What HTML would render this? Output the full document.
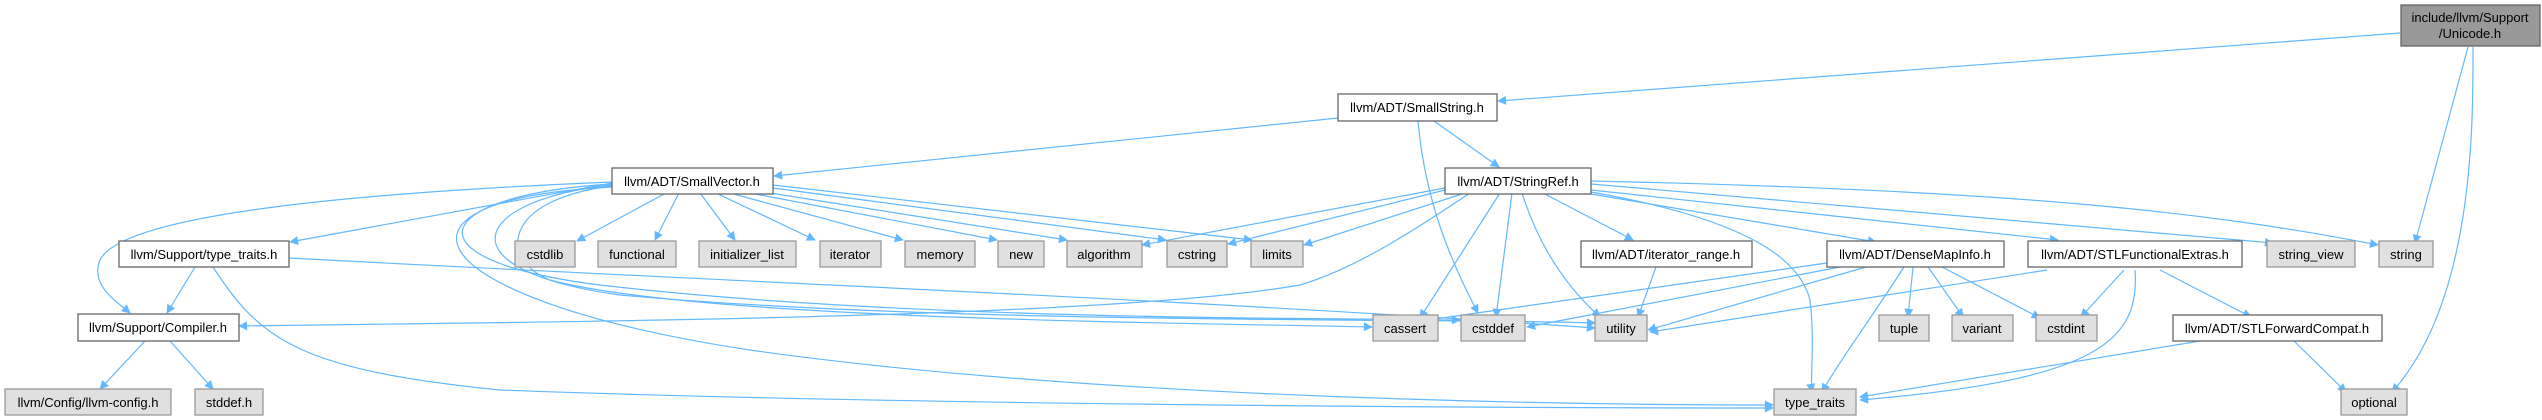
<!DOCTYPE html>
<html><head><meta charset="utf-8"><style>
html,body{margin:0;padding:0;background:#fff;width:2542px;height:420px;overflow:hidden}
svg{display:block}
text{font-family:"Liberation Sans",sans-serif;font-size:13px;fill:#000;text-anchor:middle}
.e{fill:none;stroke:#63b8ff;stroke-width:1.2}
.w{fill:#fff;stroke:#666;stroke-width:1.3}
.g{fill:#e0e0e0;stroke:#999;stroke-width:1.3}
.r{fill:#999;stroke:#666;stroke-width:1.3}
</style></head><body>
<svg width="2542" height="420" viewBox="0 0 2542 420" xmlns="http://www.w3.org/2000/svg">
<defs><marker id="a" viewBox="0 0 10 10" refX="9" refY="5" markerWidth="10" markerHeight="9" markerUnits="userSpaceOnUse" orient="auto"><path d="M0,0 L10,5 L0,10 z" fill="#63b8ff"/></marker></defs>
<g class="e" marker-end="url(#a)">
<!-- Unicode -->
<path d="M2400,33 L1498,101"/>
<path d="M2468,47 L2415,243"/>
<path d="M2473,47 C2473,120 2475,300 2392,392"/>
<!-- SmallString -->
<path d="M1338,118 L774,176"/>
<path d="M1434,121 L1499,167"/>
<path d="M1418,121 C1425,200 1450,260 1478,313"/>
<!-- SmallVector -->
<path d="M612,183 L290,242"/>
<path d="M612,182 C300,195 120,220 100,260 C90,285 115,300 130,313"/>
<path d="M666,193 L577,241"/>
<path d="M679,193 L655,240"/>
<path d="M700,193 L735,240"/>
<path d="M716,193 L815,240"/>
<path d="M730,193 L903,240"/>
<path d="M750,193 L997,240"/>
<path d="M770,193 L1067,240"/>
<path d="M773,188 L1166,240"/>
<path d="M773,185 L1252,240"/>
<path d="M612,186 C500,200 500,260 550,280 C700,320 1200,323 1372,327"/>
<path d="M612,184 C430,195 400,260 600,285 C900,320 1300,318 1460,320"/>
<path d="M612,185 C470,200 440,270 620,295 C950,325 1450,318 1595,323"/>
<path d="M612,187 C360,200 420,300 750,350 C1100,400 1600,405 1773,405"/>
<!-- type_traits.h -->
<path d="M195,267 L167,313"/>
<path d="M213,267 C260,340 300,370 500,390 C900,405 1500,408 1773,408"/>
<path d="M289,258 C700,280 1200,300 1595,328"/>
<!-- Compiler -->
<path d="M145,341 L100,389"/>
<path d="M170,341 L213,389"/>
<!-- StringRef -->
<path d="M1445,188 L1142,245"/>
<path d="M1445,190 L1228,244"/>
<path d="M1465,193 L1304,245"/>
<path d="M1470,193 C1400,240 1350,270 1300,285 C1100,320 500,322 239,326"/>
<path d="M1500,193 L1420,318"/>
<path d="M1512,193 L1496,317"/>
<path d="M1522,193 C1540,250 1570,290 1600,317"/>
<path d="M1543,193 L1633,240"/>
<path d="M1585,193 L1876,242"/>
<path d="M1591,190 L2058,240"/>
<path d="M1591,184 L2273,243"/>
<path d="M1591,181 C2000,190 2200,210 2378,245"/>
<path d="M1591,192 C1750,220 1800,260 1810,300 C1815,340 1810,380 1812,392"/>
<!-- iterator_range -->
<path d="M1656,267 L1638,317"/>
<!-- DenseMapInfo -->
<path d="M1827,263 L1428,320"/>
<path d="M1840,267 L1527,327"/>
<path d="M1866,267 L1648,330"/>
<path d="M1904,267 C1870,320 1840,360 1822,392"/>
<path d="M1913,267 L1908,317"/>
<path d="M1928,267 L1963,317"/>
<path d="M1942,267 L2040,318"/>
<!-- STLFunctionalExtras -->
<path d="M2047,270 L1650,332"/>
<path d="M2124,270 L2081,317"/>
<path d="M2135,270 C2140,340 2100,380 1860,400"/>
<path d="M2160,270 L2251,317"/>
<!-- STLForwardCompat -->
<path d="M2200,341 L1860,397"/>
<path d="M2294,341 L2346,392"/>
</g>
<!-- nodes -->
<rect class="r" x="2401" y="5" width="139" height="41"/>
<text x="2470" y="22">include/llvm/Support</text><text x="2470" y="38">/Unicode.h</text>
<rect class="w" x="1338" y="94" width="159" height="27"/><text x="1417" y="112">llvm/ADT/SmallString.h</text>
<rect class="w" x="612" y="168" width="161" height="26"/><text x="692" y="186">llvm/ADT/SmallVector.h</text>
<rect class="w" x="1445" y="168" width="146" height="26"/><text x="1518" y="186">llvm/ADT/StringRef.h</text>
<rect class="w" x="119" y="241" width="170" height="26"/><text x="204" y="259">llvm/Support/type_traits.h</text>
<rect class="g" x="515" y="241" width="60" height="26"/><text x="545" y="259">cstdlib</text>
<rect class="g" x="598" y="241" width="78" height="26"/><text x="637" y="259">functional</text>
<rect class="g" x="699" y="241" width="97" height="26"/><text x="747" y="259">initializer_list</text>
<rect class="g" x="820" y="241" width="61" height="26"/><text x="850" y="259">iterator</text>
<rect class="g" x="905" y="241" width="70" height="26"/><text x="940" y="259">memory</text>
<rect class="g" x="998" y="241" width="46" height="26"/><text x="1021" y="259">new</text>
<rect class="g" x="1067" y="241" width="75" height="26"/><text x="1104" y="259">algorithm</text>
<rect class="g" x="1167" y="241" width="60" height="26"/><text x="1197" y="259">cstring</text>
<rect class="g" x="1251" y="241" width="52" height="26"/><text x="1277" y="259">limits</text>
<rect class="w" x="1581" y="241" width="171" height="26"/><text x="1666" y="259">llvm/ADT/iterator_range.h</text>
<rect class="w" x="1827" y="241" width="177" height="26"/><text x="1915" y="259">llvm/ADT/DenseMapInfo.h</text>
<rect class="w" x="2028" y="241" width="214" height="26"/><text x="2135" y="259">llvm/ADT/STLFunctionalExtras.h</text>
<rect class="g" x="2267" y="241" width="88" height="26"/><text x="2311" y="259">string_view</text>
<rect class="g" x="2379" y="241" width="54" height="26"/><text x="2406" y="259">string</text>
<rect class="w" x="78" y="314" width="161" height="27"/><text x="158" y="332">llvm/Support/Compiler.h</text>
<rect class="g" x="1373" y="315" width="65" height="26"/><text x="1405" y="333">cassert</text>
<rect class="g" x="1461" y="315" width="64" height="26"/><text x="1493" y="333">cstddef</text>
<rect class="g" x="1595" y="315" width="52" height="26"/><text x="1621" y="333">utility</text>
<rect class="g" x="1879" y="315" width="50" height="26"/><text x="1904" y="333">tuple</text>
<rect class="g" x="1952" y="315" width="61" height="26"/><text x="1982" y="333">variant</text>
<rect class="g" x="2036" y="315" width="61" height="26"/><text x="2066" y="333">cstdint</text>
<rect class="w" x="2173" y="315" width="209" height="26"/><text x="2277" y="333">llvm/ADT/STLForwardCompat.h</text>
<rect class="g" x="5" y="389" width="166" height="26"/><text x="88" y="407">llvm/Config/llvm-config.h</text>
<rect class="g" x="195" y="389" width="68" height="26"/><text x="229" y="407">stddef.h</text>
<rect class="g" x="1774" y="389" width="82" height="26"/><text x="1815" y="407">type_traits</text>
<rect class="g" x="2341" y="389" width="66" height="26"/><text x="2374" y="407">optional</text>
</svg>
</body></html>
